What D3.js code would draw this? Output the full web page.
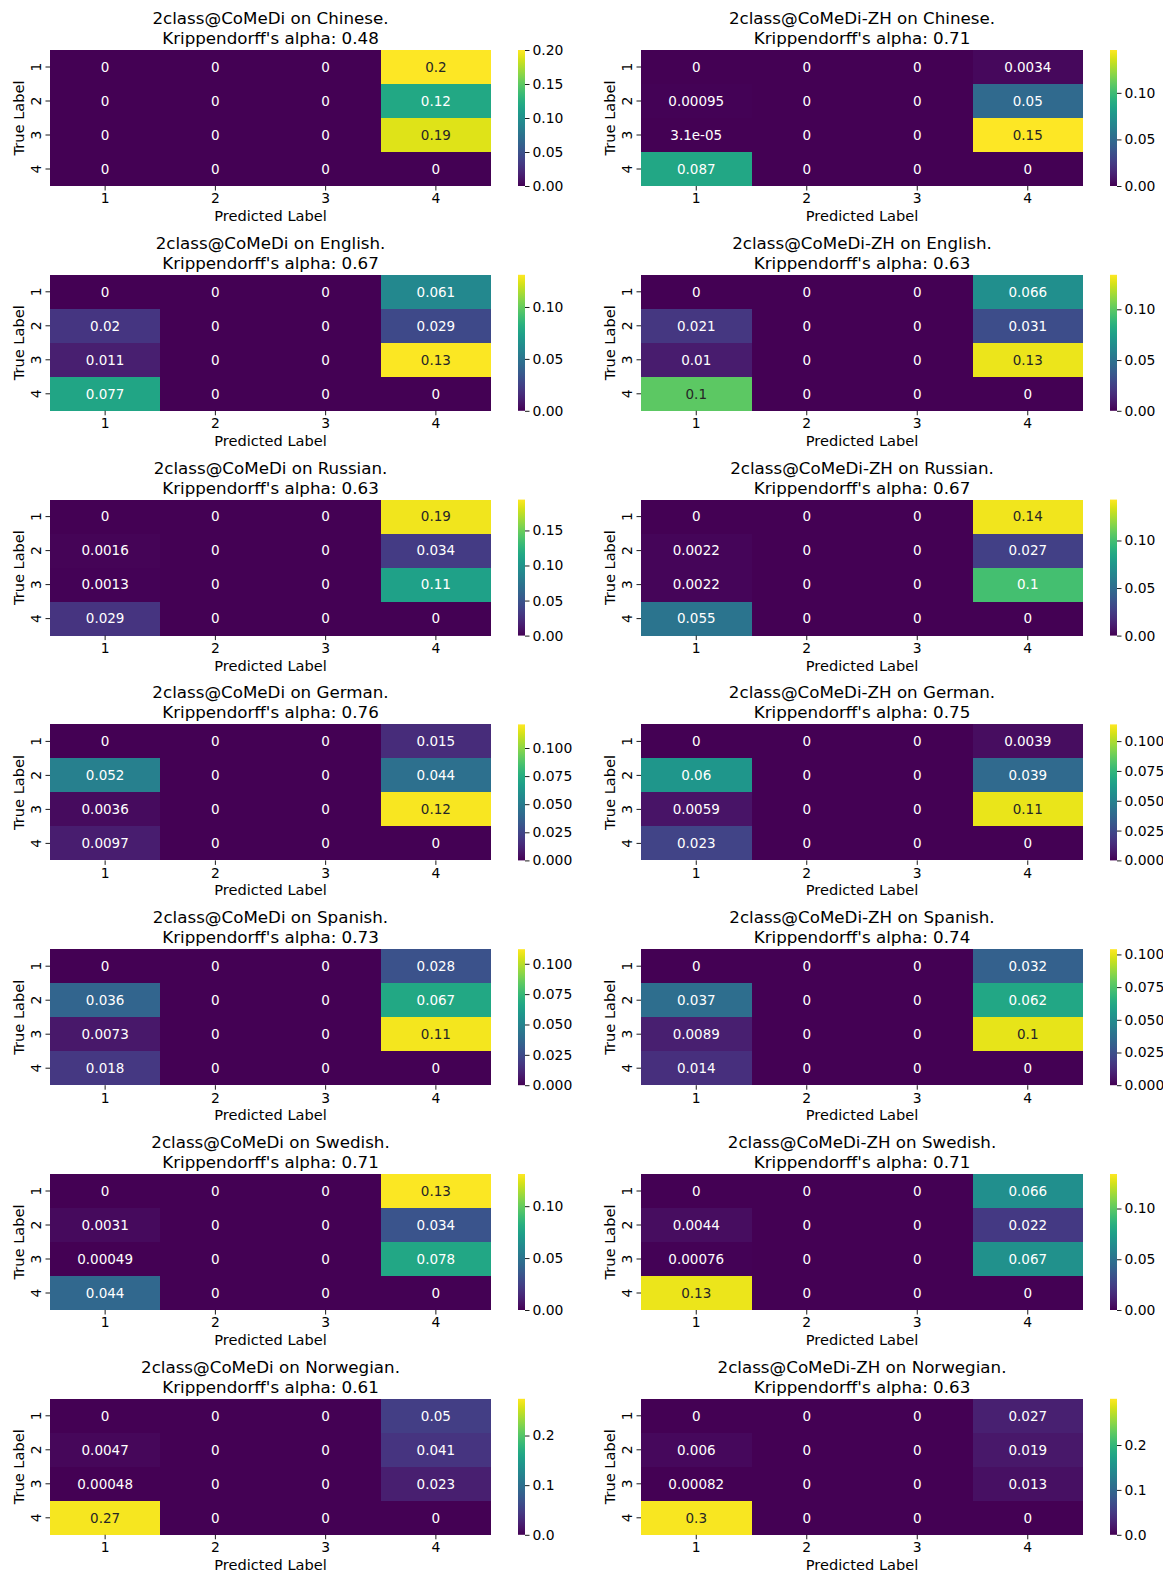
<!DOCTYPE html>
<html>
<head>
<meta charset="utf-8">
<script src="https://cdn.jsdelivr.net/npm/d3@7"></script>
<style>
  html, body { margin: 0; padding: 0; background: #fff; }
  svg { display: block; font-family: "DejaVu Sans", sans-serif; }
</style>
</head>
<body>
<svg id="chart" width="1163" height="1573"></svg>
<script>
// Confusion matrices (normalised) for two models evaluated on seven languages.
const models = ["2class@CoMeDi", "2class@CoMeDi-ZH"];
const languages = ["Chinese", "English", "Russian", "German", "Spanish", "Swedish", "Norwegian"];
const classLabels = ["1", "2", "3", "4"];

const alphaBase = [0.48, 0.67, 0.63, 0.76, 0.73, 0.71, 0.61];
const alphaZH   = [0.71, 0.63, 0.67, 0.75, 0.74, 0.71, 0.63];

// rows = true label, columns = predicted label
const matricesBase = [
  [[0, 0, 0, 0.2],    [0, 0, 0, 0.12],      [0, 0, 0, 0.19],       [0, 0, 0, 0]],
  [[0, 0, 0, 0.061],  [0.02, 0, 0, 0.029],  [0.011, 0, 0, 0.13],   [0.077, 0, 0, 0]],
  [[0, 0, 0, 0.19],   [0.0016, 0, 0, 0.034],[0.0013, 0, 0, 0.11],  [0.029, 0, 0, 0]],
  [[0, 0, 0, 0.015],  [0.052, 0, 0, 0.044], [0.0036, 0, 0, 0.12],  [0.0097, 0, 0, 0]],
  [[0, 0, 0, 0.028],  [0.036, 0, 0, 0.067], [0.0073, 0, 0, 0.11],  [0.018, 0, 0, 0]],
  [[0, 0, 0, 0.13],   [0.0031, 0, 0, 0.034],[0.00049, 0, 0, 0.078],[0.044, 0, 0, 0]],
  [[0, 0, 0, 0.05],   [0.0047, 0, 0, 0.041],[0.00048, 0, 0, 0.023],[0.27, 0, 0, 0]]
];
const matricesZH = [
  [[0, 0, 0, 0.0034], [0.00095, 0, 0, 0.05],[3.1e-05, 0, 0, 0.15], [0.087, 0, 0, 0]],
  [[0, 0, 0, 0.066],  [0.021, 0, 0, 0.031], [0.01, 0, 0, 0.13],    [0.1, 0, 0, 0]],
  [[0, 0, 0, 0.14],   [0.0022, 0, 0, 0.027],[0.0022, 0, 0, 0.1],   [0.055, 0, 0, 0]],
  [[0, 0, 0, 0.0039], [0.06, 0, 0, 0.039],  [0.0059, 0, 0, 0.11],  [0.023, 0, 0, 0]],
  [[0, 0, 0, 0.032],  [0.037, 0, 0, 0.062], [0.0089, 0, 0, 0.1],   [0.014, 0, 0, 0]],
  [[0, 0, 0, 0.066],  [0.0044, 0, 0, 0.022],[0.00076, 0, 0, 0.067],[0.13, 0, 0, 0]],
  [[0, 0, 0, 0.027],  [0.006, 0, 0, 0.019], [0.00082, 0, 0, 0.013],[0.3, 0, 0, 0]]
];

// upper end of each colour scale (unrounded maxima)
const vmaxBase = [0.2, 0.131, 0.194, 0.121, 0.112, 0.131, 0.274];
const vmaxZH   = [0.146, 0.134, 0.143, 0.114, 0.104, 0.134, 0.303];

// colorbar tick labels
const cbTicksBase = [
  ["0.00", "0.05", "0.10", "0.15", "0.20"],
  ["0.00", "0.05", "0.10"],
  ["0.00", "0.05", "0.10", "0.15"],
  ["0.000", "0.025", "0.050", "0.075", "0.100"],
  ["0.000", "0.025", "0.050", "0.075", "0.100"],
  ["0.00", "0.05", "0.10"],
  ["0.0", "0.1", "0.2"]
];
const cbTicksZH = [
  ["0.00", "0.05", "0.10"],
  ["0.00", "0.05", "0.10"],
  ["0.00", "0.05", "0.10"],
  ["0.000", "0.025", "0.050", "0.075", "0.100"],
  ["0.000", "0.025", "0.050", "0.075", "0.100"],
  ["0.00", "0.05", "0.10"],
  ["0.0", "0.1", "0.2"]
];

const svg = d3.select("#chart");

const panelCols = [
  { x0: 50,  w: 441, cbx: 518, ylabX: 19,  model: 0 },
  { x0: 641, w: 442, cbx: 1110, ylabX: 610, model: 1 }
];
const rowTop0 = 50, rowStep = 224.8, heatH = 136, cbW = 7;
const FS_TITLE = 16.7, FS_LABEL = 14.6, FS_TICK = 13.9, FS_ANN = 13.5;

// number formatting like Python's "{:.2g}"
function fmt2g(v) {
  if (v === 0) return "0";
  const e = Math.floor(Math.log10(Math.abs(v)));
  if (e < -4 || e >= 2) {
    let s = v.toExponential(1);
    let [m, ex] = s.split("e");
    m = m.replace(/\.?0+$/, "");
    const sign = ex[0] === "-" ? "-" : "+";
    let digits = ex.replace(/^[+-]/, "");
    if (digits.length < 2) digits = "0" + digits;
    return m + "e" + sign + digits;
  }
  let s = v.toPrecision(2);
  if (s.indexOf(".") >= 0) s = s.replace(/0+$/, "").replace(/\.$/, "");
  return s;
}

function relLum(c) {
  const rgb = d3.rgb(c);
  const lin = [rgb.r, rgb.g, rgb.b].map(v => {
    v /= 255;
    return v <= 0.03928 ? v / 12.92 : Math.pow((v + 0.055) / 1.055, 2.4);
  });
  return 0.2126 * lin[0] + 0.7152 * lin[1] + 0.0722 * lin[2];
}

const defs = svg.append("defs");
const gradStops = d3.range(0, 1.0001, 1 / 32);

function drawPanel(rowIdx, colDef) {
  const top = rowTop0 + rowIdx * rowStep;
  const isZH = colDef.model === 1;
  const matrix = isZH ? matricesZH[rowIdx] : matricesBase[rowIdx];
  const vmax = isZH ? vmaxZH[rowIdx] : vmaxBase[rowIdx];
  const alpha = isZH ? alphaZH[rowIdx] : alphaBase[rowIdx];
  const ticks = isZH ? cbTicksZH[rowIdx] : cbTicksBase[rowIdx];

  const g = svg.append("g");
  const x = d3.scaleBand().domain(classLabels).range([colDef.x0, colDef.x0 + colDef.w]);
  const y = d3.scaleBand().domain(classLabels).range([top, top + heatH]);
  const color = d3.scaleSequential(d3.interpolateViridis).domain([0, vmax]).clamp(true);

  const cells = [];
  matrix.forEach((row, r) => row.forEach((v, c) => cells.push({ r: classLabels[r], c: classLabels[c], v })));

  g.selectAll("rect.cell").data(cells).join("rect")
    .attr("class", "cell")
    .attr("x", d => x(d.c))
    .attr("y", d => y(d.r))
    .attr("width", x.bandwidth())
    .attr("height", y.bandwidth())
    .attr("shape-rendering", "crispEdges")
    .attr("fill", d => color(d.v));

  g.selectAll("text.ann").data(cells).join("text")
    .attr("class", "ann")
    .attr("x", d => x(d.c) + x.bandwidth() / 2)
    .attr("y", d => y(d.r) + y.bandwidth() / 2)
    .attr("dy", "0.35em")
    .attr("text-anchor", "middle")
    .attr("font-size", FS_ANN)
    .attr("fill", d => relLum(color(d.v)) > 0.408 ? "#262626" : "#ffffff")
    .text(d => fmt2g(d.v));

  // x axis
  const xAxis = g.append("g")
    .attr("transform", `translate(0,${top + heatH})`)
    .call(d3.axisBottom(x).tickSize(4.5).tickPadding(3));
  xAxis.select(".domain").remove();
  xAxis.selectAll("text").attr("font-size", FS_TICK).attr("fill", "#000").attr("font-family", "DejaVu Sans");
  xAxis.selectAll("line").attr("stroke", "#000").attr("stroke-width", 0.9);

  // y axis with vertical tick labels
  const yAxis = g.append("g")
    .attr("transform", `translate(${colDef.x0},0)`)
    .call(d3.axisLeft(y).tickSize(4.5).tickPadding(0));
  yAxis.select(".domain").remove();
  yAxis.selectAll("line").attr("stroke", "#000").attr("stroke-width", 0.9);
  yAxis.selectAll("text")
    .attr("font-size", FS_TICK).attr("fill", "#000").attr("font-family", "DejaVu Sans")
    .attr("x", null).attr("dy", null)
    .attr("text-anchor", "middle")
    .attr("transform", "translate(-9,0) rotate(-90)")
    .attr("dy", "0em");

  // axis titles
  g.append("text")
    .attr("x", colDef.x0 + colDef.w / 2)
    .attr("y", top + heatH + 35)
    .attr("text-anchor", "middle")
    .attr("font-size", FS_LABEL)
    .text("Predicted Label");
  g.append("text")
    .attr("transform", `translate(${colDef.ylabX + 5},${top + heatH / 2}) rotate(-90)`)
    .attr("text-anchor", "middle")
    .attr("font-size", FS_LABEL)
    .text("True Label");

  // title
  const title = g.append("text")
    .attr("x", colDef.x0 + colDef.w / 2)
    .attr("text-anchor", "middle")
    .attr("font-size", FS_TITLE);
  title.append("tspan").attr("x", colDef.x0 + colDef.w / 2).attr("y", top - 26)
    .text(`${models[colDef.model]} on ${languages[rowIdx]}.`);
  title.append("tspan").attr("x", colDef.x0 + colDef.w / 2).attr("y", top - 6)
    .text(`Krippendorff's alpha: ${alpha.toFixed(2)}`);

  // colorbar
  const gid = `cb-${rowIdx}-${colDef.model}`;
  const grad = defs.append("linearGradient").attr("id", gid)
    .attr("x1", 0).attr("y1", 1).attr("x2", 0).attr("y2", 0);
  grad.selectAll("stop").data(gradStops).join("stop")
    .attr("offset", d => d)
    .attr("stop-color", d => d3.interpolateViridis(d));
  g.append("rect")
    .attr("x", colDef.cbx).attr("y", top)
    .attr("width", cbW).attr("height", heatH)
    .attr("fill", `url(#${gid})`);

  const cbScale = d3.scaleLinear().domain([0, vmax]).range([top + heatH, top]);
  const cbAxis = g.append("g")
    .attr("transform", `translate(${colDef.cbx + cbW},0)`)
    .call(d3.axisRight(cbScale)
      .tickValues(ticks.map(Number))
      .tickFormat((d, i) => ticks[i])
      .tickSize(4.5).tickPadding(3));
  cbAxis.select(".domain").remove();
  cbAxis.selectAll("line").attr("stroke", "#000").attr("stroke-width", 0.9);
  cbAxis.selectAll("text").attr("font-size", FS_TICK).attr("fill", "#000").attr("font-family", "DejaVu Sans");
}

languages.forEach((lang, i) => {
  panelCols.forEach(col => drawPanel(i, col));
});
</script>
</body>
</html>
